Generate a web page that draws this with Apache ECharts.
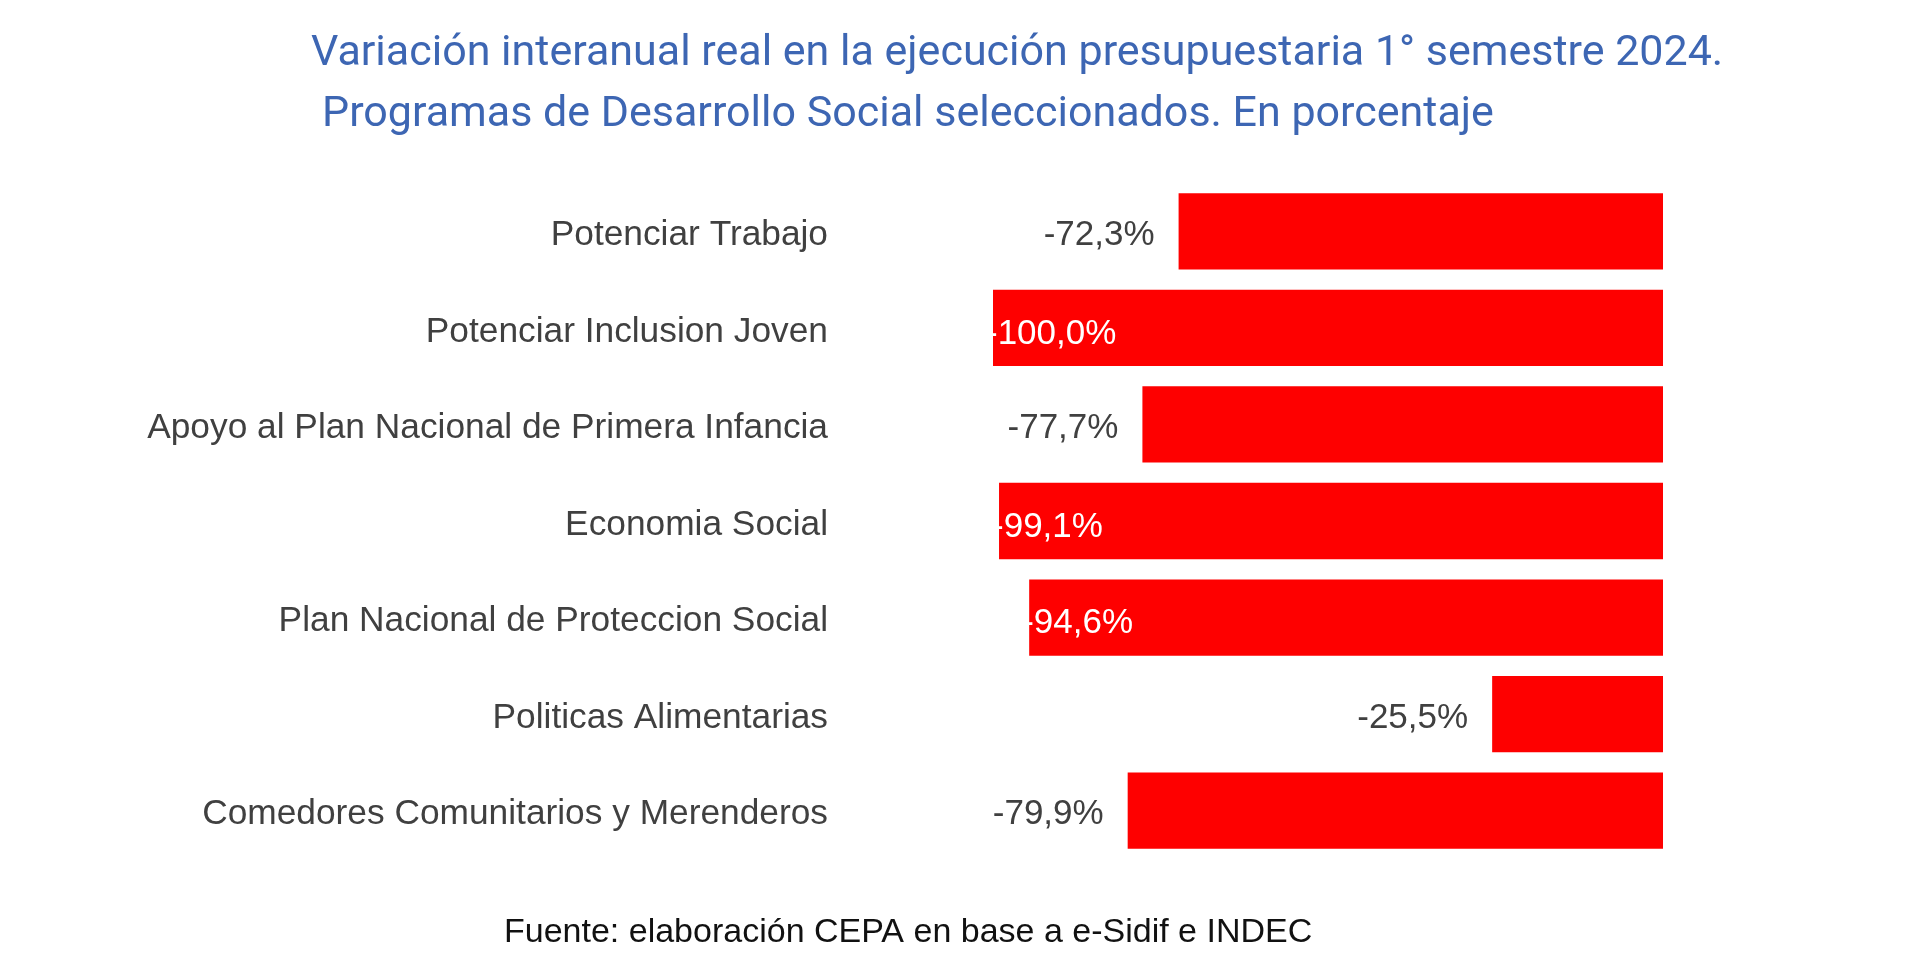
<!DOCTYPE html>
<html>
<head>
<meta charset="utf-8">
<script src="https://cdn.jsdelivr.net/npm/echarts@6/dist/echarts.min.js"></script>
<style>
html,body{margin:0;padding:0;background:#fff;}
#chart{width:1920px;height:965px;}
</style>
</head>
<body>
<div id="chart"></div>
<script>
const categories = [
  "Potenciar Trabajo",
  "Potenciar Inclusion Joven",
  "Apoyo al Plan Nacional de Primera Infancia",
  "Economia Social",
  "Plan Nacional de Proteccion Social",
  "Politicas Alimentarias",
  "Comedores Comunitarios y Merenderos"
];
const values = [-72.3, -100.0, -77.7, -99.1, -94.6, -25.5, -79.9];
const titleLine1 = "Variación interanual real en la ejecución presupuestaria 1° semestre 2024.";
const titleLine2 = "Programas de Desarrollo Social seleccionados. En porcentaje";
const sourceText = "Fuente: elaboración CEPA en base a e-Sidif e INDEC";

function fmt(v){ return v.toFixed(1).replace('.', ',') + '%'; }

const barData = values.map(v => {
  const inside = v <= -90;
  return {
    value: v,
    label: inside
      ? {position: 'insideLeft', distance: 0, offset: [-7, 6], color: '#ffffff'}
      : {position: 'left', distance: 24, offset: [0, 4], color: '#404040'}
  };
});

const chart = echarts.init(document.getElementById('chart'));
chart.setOption({
  backgroundColor: '#ffffff',
  animation: false,
  title: [
    {text: titleLine1, left: 306, top: 28,
     textStyle: {fontFamily: 'Roboto', fontSize: 43, fontWeight: 'normal', color: '#3d66b3', lineHeight: 43}},
    {text: titleLine2, left: 317, top: 89,
     textStyle: {fontFamily: 'Roboto', fontSize: 43, fontWeight: 'normal', color: '#3d66b3', lineHeight: 43}}
  ],
  grid: {left: 993, right: 257, top: 183, bottom: 965 - 859, containLabel: false},
  xAxis: {
    type: 'value', min: -100, max: 0, show: false
  },
  yAxis: {
    type: 'category', data: categories, inverse: true,
    axisLine: {show: false}, axisTick: {show: false}, splitLine: {show: false},
    axisLabel: {
      margin: 165,
      formatter: v => '{c|' + v + '}',
      rich: {
        c: {color: '#404040', fontSize: 35.3, fontFamily: 'Liberation Sans, Arial, sans-serif',
            padding: [8, 0, 0, 0]}
      }
    }
  },
  series: [{
    type: 'bar',
    data: barData,
    barWidth: '79%',
    itemStyle: {color: '#fe0000'},
    label: {
      show: true, fontSize: 35, fontFamily: 'Liberation Sans, Arial, sans-serif',
      formatter: p => fmt(p.value)
    }
  }],
  graphic: [{
    type: 'text', left: 504, top: 916,
    style: {text: sourceText, fontSize: 34, fontFamily: 'Liberation Sans, Arial, sans-serif', fill: '#111111'}
  }]
});
</script>
</body>
</html>
